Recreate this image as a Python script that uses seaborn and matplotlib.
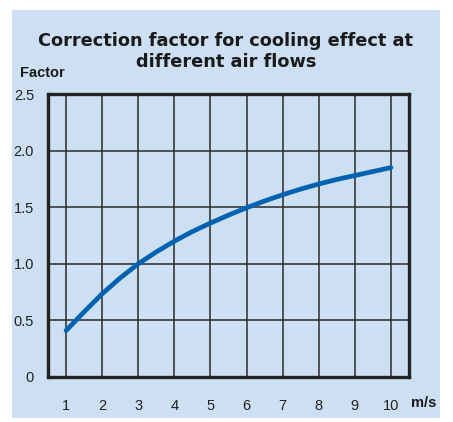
import matplotlib.pyplot as plt
import seaborn as sns
import pandas as pd
from matplotlib.patches import Rectangle

sns.set_style('whitegrid')

air_speed = [1, 1.5, 2, 2.5, 3, 3.5, 4, 4.5, 5, 5.5, 6, 6.5, 7, 7.5, 8, 8.5, 9, 9.5, 10]
factor = [0.41, 0.575, 0.735, 0.875, 1.00, 1.105, 1.20, 1.285, 1.36, 1.43, 1.495,
          1.555, 1.61, 1.66, 1.705, 1.745, 1.78, 1.815, 1.85]
x_ticks = [1, 2, 3, 4, 5, 6, 7, 8, 9, 10]
y_ticks = [0, 0.5, 1.0, 1.5, 2.0, 2.5]
y_labels = ['0', '0.5', '1.0', '1.5', '2.0', '2.5']
title_lines = ['Correction factor for cooling effect at', 'different air flows']

panel = '#cddff2'
narrow = ['Liberation Sans Narrow', 'Liberation Sans', 'DejaVu Sans']

df = pd.DataFrame({'speed': air_speed, 'factor': factor})

fig = plt.figure(figsize=(4.53, 4.22), dpi=100)
fig.patch.set_facecolor('white')
fig.patches.append(Rectangle((12 / 453, 4 / 422), 428 / 453, 408 / 422,
                             transform=fig.transFigure, facecolor=panel,
                             edgecolor='none', zorder=-5))

ax = fig.add_axes([48 / 453, 45 / 422, 361 / 453, 283 / 422])
ax.set_zorder(5)
ax.set_facecolor(panel)
sns.lineplot(data=df, x='speed', y='factor', ax=ax, color='#0062b1',
             linewidth=3.4, zorder=3)

ax.set_xlim(0.5, 10.5)
ax.set_ylim(0, 2.5)
ax.set_xticks(x_ticks)
ax.set_yticks(y_ticks)
ax.set_xticklabels([str(t) for t in x_ticks], family=narrow, fontsize=10.5, color='#222222')
ax.set_yticklabels(y_labels, family=narrow, fontsize=10.5, color='#222222')
ax.tick_params(axis='x', length=0, pad=16)
ax.tick_params(axis='y', length=0, pad=10)
ax.grid(True, color='#2a2a2a', linewidth=1.1)
for s in ax.spines.values():
    s.set_visible(True)
    s.set_color('#222222')
    s.set_linewidth(2.4)
ax.set_xlabel('')
ax.set_ylabel('')

for i, line in enumerate(title_lines):
    fig.text(226 / 453, 1 - (41 + 21 * i) / 422, line, ha='center', va='center',
             fontsize=12.8, fontweight='bold', color='#1a1a1a')
fig.text(20 / 453, 1 - 73 / 422, 'Factor', ha='left', va='center', family=narrow,
         fontsize=10.5, fontweight='bold', color='#1a1a1a')
fig.text(411 / 453, 1 - 403 / 422, 'm/s', ha='left', va='center', family=narrow,
         fontsize=10.5, fontweight='bold', color='#1a1a1a')

fig.savefig('out.png', dpi=100, facecolor='white')
